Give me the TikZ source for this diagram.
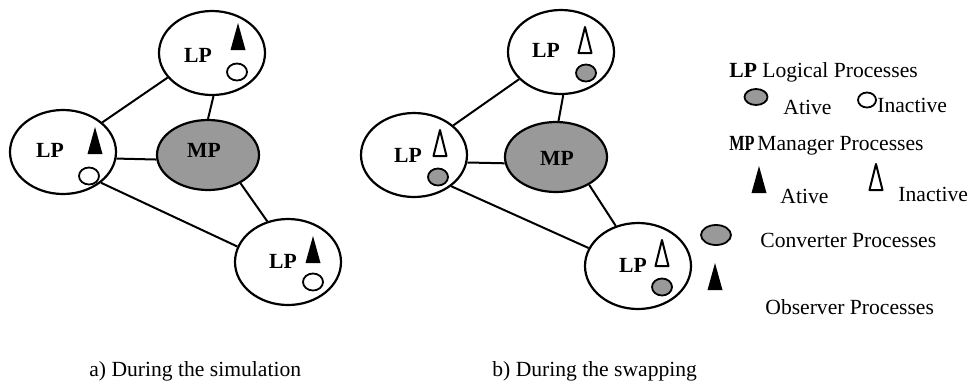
\documentclass[tikz,border=0pt]{standalone}
\usepackage{fontspec}
\setmainfont{Liberation Serif}
\usetikzlibrary{shapes.geometric}
\tikzset{
  proc/.style={draw, ellipse, line width=1.1pt, inner sep=0pt},
  lpnode/.style={proc, minimum width=53pt, minimum height=42pt},
  mpnode/.style={proc, fill=black!40, minimum width=51pt, minimum height=35pt},
  conv/.style={draw, ellipse, line width=0.9pt, inner sep=0pt, fill=black!40,
               minimum width=10pt, minimum height=8.5pt},
  convoff/.style={conv, fill=white},
  link/.style={line width=1pt},
  txt/.style={font=\fontsize{10.8pt}{13pt}\selectfont, inner sep=0pt},
  btxt/.style={txt, font=\fontsize{10.8pt}{13pt}\selectfont\bfseries},
  obson/.pic={\fill[black] (-7.5,0) -- (7.5,0) -- (0,-27) -- cycle;},
  obsoff/.pic={\draw[line width=1pt, line join=round] (-6.5,0) -- (6.5,0) -- (0,-26) -- cycle;}
}
\begin{document}
\begin{tikzpicture}[x=0.5pt, y=-0.5pt]
\useasboundingbox (0,0) rectangle (973,386);

% ---- a) during the simulation ----
\node[lpnode] (Lt) at (212,53) {};
\node[lpnode] (Ll) at (63,152) {};
\node[mpnode] (Lm) at (208,155) {};
\node[lpnode, minimum height=43pt] (Lb) at (288,262) {};

\draw[link] (Lt.209.6) -- (Ll.37.6);
\draw[link] (Lt.-88.6) -- (Lm.90);
\draw[link] (Ll.-7.4) -- (Lm.185);
\draw[link] (Ll.-39.4) -- (Lb.163);
\draw[link] (Lm.-41) -- (Lb.117.6);

\node[btxt] (Ltl) at (198,55) {LP};
\node[btxt] (Lll) at (50,150) {LP};
\node[btxt] (Lbl) at (283,261) {LP};
\node[btxt] (Lml) at (204,150) {MP};

\pic at (238,50) {obson};
\pic at (95,154) {obson};
\pic at (313,263) {obson};

\node[convoff] (Ltc) at (237,72) {};
\node[convoff] (Llc) at (89,176) {};
\node[convoff] (Lbc) at (313,282) {};

% ---- b) during the swapping ----
\node[lpnode] (Rt) at (561,52) {};
\node[lpnode] (Rl) at (414,155) {};
\node[mpnode] (Rm) at (556,157) {};
\node[lpnode, minimum height=43pt] (Rb) at (638,266) {};

\draw[link] (Rt.213) -- (Rl.37.3);
\draw[link] (Rt.-87) -- (Rm.86.7);
\draw[link] (Rl.-8.6) -- (Rm.187);
\draw[link] (Rl.-40) -- (Rb.160);
\draw[link] (Rm.-40.4) -- (Rb.119.6);

\node[btxt] (Rtl) at (546,50) {LP};
\node[btxt] (Rll) at (408,155) {LP};
\node[btxt] (Rbl) at (633,265) {LP};
\node[btxt] (Rml) at (557,158) {MP};

\pic at (585,53) {obsoff};
\pic at (440,156) {obsoff};
\pic at (662,266) {obsoff};

\node[conv] (Rtc) at (586,73) {};
\node[conv] (Rlc) at (438,177) {};
\node[conv] (Rbc) at (662,287) {};

% ---- legend ----
\node[txt, anchor=base west] (k1) at (729,77) {\textbf{LP} Logical Processes};
\node[conv, minimum width=11.5pt, minimum height=8pt] (k1a) at (756,97) {};
\node[txt, anchor=base west] (k1at) at (783,114) {Ative};
\node[convoff, minimum width=9pt, minimum height=7.5pt] (k1i) at (867,100) {};
\node[txt, anchor=base west] (k1it) at (877,112) {Inactive};

\node[btxt, anchor=base west] (k2) at (729,150) {\scalebox{0.75}[1]{MP}};
\node[txt, anchor=base west] (k2t) at (757,150) {Manager Processes};
\pic at (759,193) {obson};
\node[txt, anchor=base west] (k2at) at (780,203) {Ative};
\pic at (876,190) {obsoff};
\node[txt, anchor=base west] (k2it) at (898,201) {Inactive};

\node[conv, minimum width=15pt, minimum height=10pt] (k3) at (716,235) {};
\node[txt, anchor=base west] (k3t) at (760,247) {Converter Processes};
\pic at (715,290) {obson};
\node[txt, anchor=base west] (k4t) at (765,314) {Observer Processes};

% ---- captions ----
\node[txt, anchor=base west] (capa) at (89,376) {a) During the simulation};
\node[txt, anchor=base west] (capb) at (492,376) {b) During the swapping};
\end{tikzpicture}
\end{document}
